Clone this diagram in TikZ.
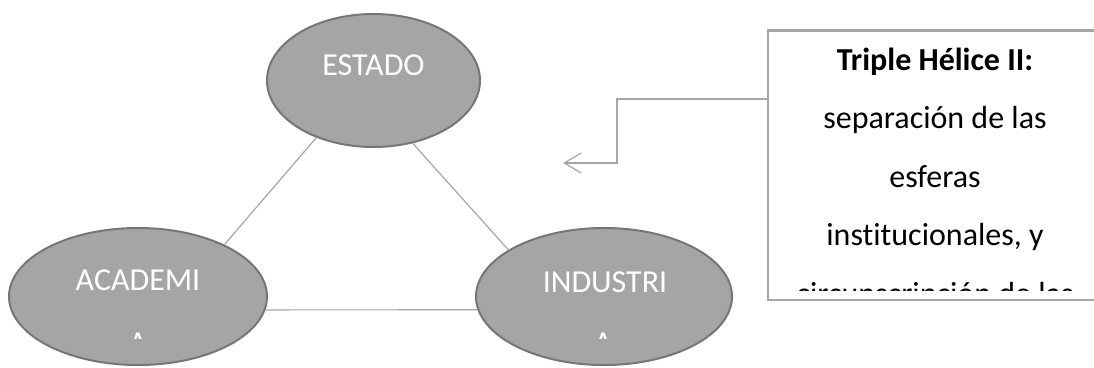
\documentclass[tikz,border=0pt]{standalone}
\usepackage{fontspec}
\setmainfont{Carlito}[Ligatures=NoCommon]
\usetikzlibrary{
    arrows.meta,
    positioning,
    shapes.geometric
}
\definecolor{esferagris}{HTML}{A5A5A5}
\definecolor{esferaborde}{HTML}{767676}
\definecolor{enlacegris}{HTML}{A6A6A6}
\tikzset{
    esfera/.style={ellipse, draw=esferaborde, fill=esferagris, line width=2pt, inner sep=0pt},
    rotulo/.style={anchor=base, text=white, font=\fontsize{32}{38}\selectfont},
    enlace/.style={draw=enlacegris, line width=1.2pt},
    notabox/.style={draw=enlacegris, line width=2.5pt, fill=white, inner sep=0pt,
        minimum width=335pt, minimum height=269.5pt},
    linea/.style={anchor=base, text=black, font=\fontsize{32}{38}\selectfont},
    flecha/.style={enlace, -{Straight Barb[length=17pt, width=20pt, line width=1.2pt]}}
}

\begin{document}
\begin{tikzpicture}[x=1pt, y=-1pt]
    \useasboundingbox (0,0) rectangle (1094,367);
    \clip (0,0) rectangle (1094,367);
    % las tres esferas
    \node[esfera, minimum width=213pt, minimum height=133pt] (estado) at (373.5,80.5) {};
    \node[esfera, minimum width=258pt, minimum height=137pt] (academia) at (138,296.5) {};
    \node[esfera, minimum width=256pt, minimum height=137pt] (industria) at (604,296.5) {};
    \draw[enlace] (estado.225) -- (academia.31);
    \draw[enlace] (estado.-58) -- (industria.154);
    \draw[enlace] (academia.-6) -- (industria.186);
    \node[rotulo] (tEstado) at ([yshift=5.5pt]estado.center) {ESTADO};
    \node[rotulo] (tAcademia) at ([yshift=6.5pt]academia.center) {ACADEMI};
    \node[rotulo] (tIndustria) at ([xshift=1pt, yshift=4.5pt]industria.center) {INDUSTRI};
    \begin{scope}
        \clip (0,0) rectangle (1094,338);
        \node[rotulo] (aAcademia) at (138,353.5) {A};
        \node[rotulo] (aIndustria) at (603,353.5) {A};
    \end{scope}
    % recuadro de la nota
    \node[notabox] (nota) at (935.5,165.25) {};
    \node[linea, font=\fontsize{32}{38}\selectfont\bfseries] (titulo) at (935,70) {Triple Hélice II:};
    \foreach \texto/\base [count=\i] in {separación de las/128.5, esferas/187, {institucionales, y}/245.5}{
        \node[linea] (linea\i) at (935,\base) {\texto};
    }
    \begin{scope}
        \clip (768,0) rectangle (1103,290.5);
        \node[linea] (linea4) at (935,304) {circunscripción de las};
    \end{scope}
    \coordinate (codo) at (617,163);
    \coordinate (punta) at (563,163);
    \draw[flecha] (nota.west |- 617,99) -| (codo) -- (punta);
\end{tikzpicture}
\end{document}
